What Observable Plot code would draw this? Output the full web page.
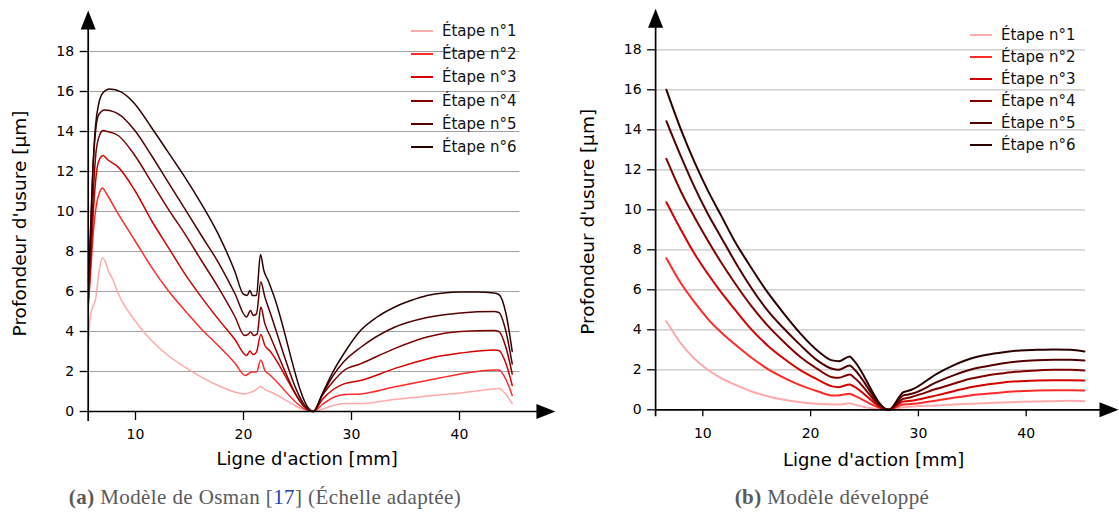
<!DOCTYPE html>
<html><head><meta charset="utf-8">
<script src="https://cdn.jsdelivr.net/npm/d3@7"></script>
<script src="https://cdn.jsdelivr.net/npm/@observablehq/plot@0.6"></script>
<style>
body{margin:0;background:#fff;width:1119px;height:512px;overflow:hidden;position:relative;}
.panel{position:absolute;top:0;}
.legend{position:absolute;top:0;font:15px "DejaVu Sans";color:#111;}
.row{position:absolute;left:0;height:20px;display:flex;align-items:center;white-space:nowrap;}
.swatch{width:22px;height:2px;margin-right:9px;}
.caption{position:absolute;top:485px;font-family:"Liberation Serif";font-size:21px;line-height:24px;letter-spacing:0.4px;color:#5a5a5a;text-align:center;white-space:nowrap;}
.caption b{font-weight:bold;}
.caption .ref{color:#2340a8;}
</style></head><body>
<div id="left" class="panel" style="left:0"></div>
<div id="right" class="panel" style="left:560px"></div>
<div id="legL" class="legend" style="left:411px"></div>
<div id="legR" class="legend" style="left:970px"></div>
<div class="caption" style="left:0;width:530px"><b>(a)</b> Modèle de Osman [<span class="ref">17</span>] (Échelle adaptée)</div>
<div class="caption" style="left:560px;width:544px"><b>(b)</b> Modèle développé</div>
<script>
const stageNames = ["Étape n°1", "Étape n°2", "Étape n°3", "Étape n°4", "Étape n°5", "Étape n°6"];
const stageColors = ["#ffaaaa", "#ff2a2a", "#d40000", "#800000", "#550000", "#2b0000"];
const yTicks = [0, 2, 4, 6, 8, 10, 12, 14, 16, 18];
const xTicks = [10, 20, 30, 40];
const xLabel = "Ligne d'action [mm]";
const yLabel = "Profondeur d'usure [µm]";

// (a) Osman model: [x (mm), depth (µm)]
const osman1 = [[5.65,3.5],[5.85,4.9],[6.1,5.3],[6.3,5.6],[6.6,6.9],[6.91,7.68],[7.2,7.5],[7.47,7.05],[7.9,6.6],[8.4,5.9],[9.94,4.55],[11.48,3.55],[13.02,2.8],[14.57,2.22],[16.1,1.72],[17.65,1.3],[19.2,0.97],[20.1,0.88],[20.6,0.95],[21.05,1.05],[21.6,1.25],[22.0,1.08],[22.4,1.0],[26.45,0],[27.3,0.12],[28.3,0.3],[29.3,0.4],[30.83,0.4],[33.92,0.6],[37.0,0.77],[40.09,0.93],[43.18,1.13],[43.64,1.15],[44.3,0.85],[44.88,0.4]];
const osman2 = [[5.65,5.4],[5.85,7.0],[6.1,9.0],[6.4,10.4],[6.7,11.0],[6.95,11.18],[7.3,10.9],[8.4,9.88],[9.94,8.55],[11.48,7.22],[13.02,6.05],[14.57,5.05],[16.1,4.13],[17.65,3.3],[19.2,2.42],[20.18,1.8],[20.5,1.9],[20.74,1.97],[21.2,1.97],[21.6,2.58],[21.98,2.05],[22.4,1.85],[26.45,0],[27.3,0.35],[28.3,0.7],[29.3,0.85],[30.83,0.88],[33.92,1.22],[37.0,1.55],[40.09,1.88],[43.18,2.08],[43.64,2.08],[44.3,1.6],[44.88,0.8]];
const osman3 = [[5.65,5.6],[5.85,7.5],[6.1,10.0],[6.4,12.0],[6.7,12.65],[7.0,12.8],[7.4,12.6],[8.4,12.22],[9.94,11.05],[11.48,9.55],[13.02,8.22],[14.57,6.88],[16.1,5.72],[17.65,4.63],[19.2,3.6],[20.28,2.8],[20.59,3.02],[20.9,2.85],[21.2,2.97],[21.6,3.85],[21.98,3.3],[22.4,3.05],[26.45,0],[27.3,0.6],[28.3,1.1],[29.3,1.38],[30.83,1.55],[33.92,2.13],[37.0,2.63],[40.09,2.92],[43.18,3.08],[43.64,3.05],[44.3,2.4],[44.88,1.3]];
const osman4 = [[5.65,6.0],[5.85,8.0],[6.1,11.0],[6.35,13.0],[6.7,13.85],[7.0,14.05],[7.4,14.0],[8.4,13.8],[9.94,12.8],[11.48,11.47],[13.02,10.13],[14.57,8.88],[16.1,7.55],[17.65,6.22],[19.2,4.75],[20.1,3.8],[20.4,3.85],[20.65,3.97],[20.96,3.8],[21.27,3.88],[21.6,5.22],[21.98,4.38],[22.4,3.85],[26.45,0],[27.3,0.8],[28.3,1.5],[29.3,2.05],[30.83,2.38],[33.92,3.13],[37.0,3.72],[40.09,4.0],[43.18,4.05],[43.64,4.0],[44.3,3.2],[44.88,1.88]];
const osman5 = [[5.65,6.5],[5.85,9.0],[6.05,12.0],[6.3,14.0],[6.6,14.85],[7.16,15.08],[7.6,15.05],[8.4,14.88],[9.94,14.05],[11.48,12.8],[13.02,11.47],[14.57,10.13],[16.1,8.8],[17.65,7.47],[19.2,5.9],[20.28,4.72],[20.65,5.05],[20.9,4.8],[21.2,4.88],[21.6,6.47],[21.98,5.72],[22.4,5.05],[26.45,0],[27.3,0.85],[28.3,1.8],[29.3,2.5],[30.83,3.2],[33.92,4.2],[37.0,4.7],[40.09,4.93],[43.18,5.0],[43.64,4.95],[44.3,4.0],[44.88,2.38]];
const osman6 = [[5.65,6.9],[5.8,8.5],[6.0,11.5],[6.3,14.3],[6.6,15.4],[7.0,15.95],[7.6,16.13],[8.7,15.97],[9.94,15.38],[11.48,14.2],[13.02,12.97],[14.57,11.72],[16.1,10.38],[17.65,8.88],[19.2,7.0],[19.97,5.88],[20.34,5.8],[20.59,6.05],[20.83,5.8],[21.2,5.8],[21.57,7.85],[21.88,7.05],[22.28,6.55],[22.75,5.88],[26.45,0],[27.3,0.9],[28.2,1.9],[29.3,2.9],[30.83,4.05],[32.3,4.7],[33.92,5.2],[35.5,5.55],[37.0,5.8],[38.5,5.93],[40.09,5.97],[41.7,5.97],[43.18,5.92],[43.64,5.85],[44.3,4.9],[44.88,3.0]];

// (b) Developed model
const devX = [6.62,8.0,9.23,10.46,11.69,12.92,14.46,16.0,17.54,19.08,20.62,22.0,22.6,23.63,24.0,27.25,28.61,29.07,29.54,31.7,33.25,34.8,36.35,37.89,39.44,40.99,42.54,44.09,45.4];
const dev1 = [4.42,3.3,2.55,2.0,1.58,1.27,0.93,0.68,0.5,0.38,0.3,0.27,0.26,0.33,0.27,0,0.13,0.15,0.17,0.22,0.27,0.3,0.33,0.37,0.4,0.42,0.43,0.45,0.43];
const dev2 = [7.58,6.3,5.38,4.55,3.88,3.3,2.63,2.05,1.6,1.22,0.93,0.72,0.72,0.8,0.72,0,0.27,0.28,0.3,0.47,0.6,0.72,0.8,0.88,0.93,0.97,0.98,0.98,0.97];
const dev3 = [10.38,8.97,7.8,6.8,5.88,5.05,4.05,3.22,2.55,1.97,1.52,1.17,1.13,1.27,1.17,0,0.42,0.44,0.47,0.72,0.93,1.13,1.27,1.37,1.43,1.47,1.48,1.48,1.47];
const dev4 = [12.55,10.88,9.63,8.47,7.38,6.38,5.22,4.22,3.38,2.63,2.05,1.63,1.6,1.77,1.63,0,0.55,0.6,0.67,1.05,1.3,1.55,1.72,1.83,1.92,1.97,2.0,2.0,1.97];
const dev5 = [14.43,12.63,11.13,9.8,8.63,7.47,6.13,4.97,4.05,3.22,2.47,2.05,2.0,2.22,2.05,0,0.72,0.77,0.83,1.38,1.72,2.0,2.18,2.33,2.43,2.48,2.5,2.5,2.47];
const dev6 = [16.0,13.97,12.38,10.97,9.72,8.47,7.13,5.88,4.8,3.8,2.97,2.47,2.43,2.67,2.47,0,0.88,0.95,1.05,1.8,2.22,2.55,2.75,2.88,2.97,3.0,3.02,3.0,2.92];

const osmanRows = [osman1, osman2, osman3, osman4, osman5, osman6]
  .flatMap((pts, i) => pts.map(([x, y]) => ({x, y, stage: stageNames[i]})));
const devRows = [dev1, dev2, dev3, dev4, dev5, dev6]
  .flatMap((ys, i) => ys.map((y, j) => ({x: devX[j], y, stage: stageNames[i]})));

const arrowSymbol = {
  draw(ctx, size) {
    const r = Math.sqrt(size / Math.PI);
    ctx.moveTo(0, -r); ctx.lineTo(0.79 * r, r); ctx.lineTo(-0.79 * r, r); ctx.closePath();
  }
};

function panel(rows, o) {
  return Plot.plot({
    width: o.width, height: o.height,
    marginLeft: o.ml, marginRight: o.mr, marginTop: o.mt, marginBottom: o.mb,
    x: {domain: [o.x0, o.x1]},
    y: {domain: [0, 18]},
    color: {domain: stageNames, range: stageColors},
    style: {fontFamily: "DejaVu Sans", fontSize: "14px", color: "#000", background: "transparent"},
    marks: [
      Plot.ruleY(yTicks.slice(1), {stroke: o.grid, strokeWidth: 1.2}),
      Plot.line(rows, {x: "x", y: "y", z: "stage", stroke: "stage", strokeWidth: o.sw, curve: "monotone-x"}),
      Plot.axisY({ticks: yTicks, tickSize: 8, tickPadding: 6, label: null, strokeWidth: 1.3}),
      Plot.axisX({ticks: xTicks, tickSize: o.xts, tickPadding: o.xtp, label: null, strokeWidth: 1.3}),
      Plot.ruleY([0], {x1: o.x0, x2: o.xArrow, stroke: "#000", strokeWidth: 1.7}),
      Plot.ruleX([o.x0], {y1: o.yBelow, y2: 19.5, stroke: "#000", strokeWidth: 1.7}),
      Plot.dot([{x: o.xArrow, y: 0, rot: 90}, {x: o.x0, y: 19.575, rot: 0}],
        {x: "x", y: "y", rotate: "rot", r: 9.5, symbol: arrowSymbol, fill: "#000", stroke: "none"}),
      Plot.text([xLabel], {frameAnchor: "bottom", textAnchor: "middle", lineAnchor: "bottom", dx: 3, dy: o.xlDy, fontSize: 18, fill: "#000"}),
      Plot.text([yLabel], {frameAnchor: "left", textAnchor: "middle", lineAnchor: "middle", rotate: -90, dx: o.ylDx, dy: -8, fontSize: 18.5, fill: "#000"})
    ]
  });
}

document.getElementById("left").append(panel(osmanRows, {
  width: 560, height: 474, ml: 87.7, mr: 40.5, mt: 51, mb: 63,
  x0: 5.62, x1: 45.6, xArrow: 48.0, yBelow: -0.5, grid: "#a0a0a0", sw: 1.5,
  xts: 9, xtp: 9, xlDy: 53, ylDx: -67.7
}));
document.getElementById("right").append(panel(devRows, {
  width: 559, height: 480, ml: 95.1, mr: 34, mt: 49.3, mb: 70.7,
  x0: 5.62, x1: 45.5, xArrow: 47.68, yBelow: -0.35, grid: "#c6c6c6", sw: 2,
  xts: 7, xtp: 11, xlDy: 55.7, ylDx: -68
}));

function legend(id, rowsY) {
  const el = document.getElementById(id);
  stageNames.forEach((name, i) => {
    const row = document.createElement("div");
    row.className = "row";
    row.style.top = (rowsY[i] - 10) + "px";
    const sw = document.createElement("span");
    sw.className = "swatch";
    sw.style.background = stageColors[i];
    const t = document.createElement("span");
    t.textContent = name;
    row.append(sw, t);
    el.append(row);
  });
}
legend("legL", [31, 54.2, 77.4, 100.6, 123.8, 147]);
legend("legR", [35, 57, 79, 101, 123, 145]);
</script>
</body></html>
